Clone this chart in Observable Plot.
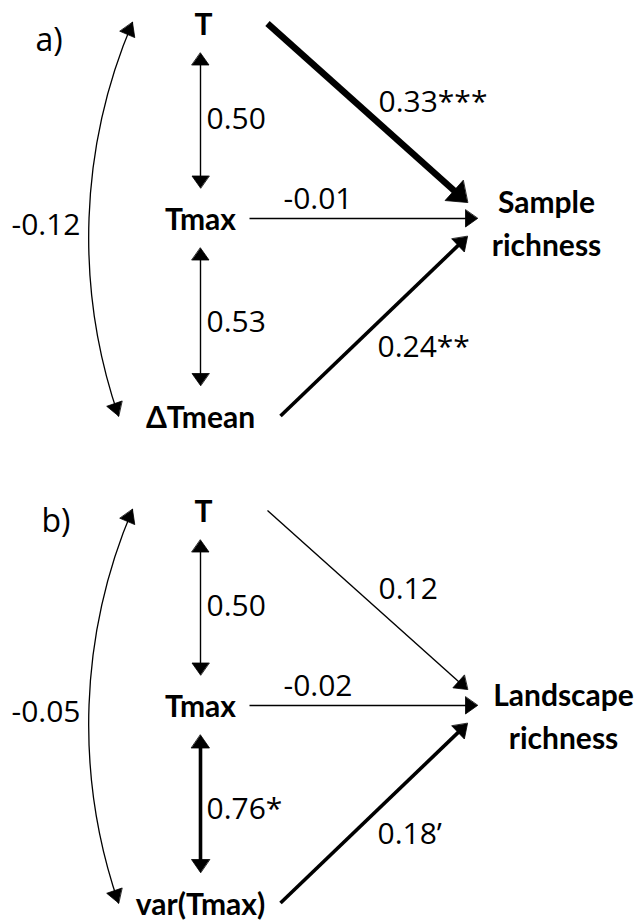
<!DOCTYPE html>
<html><head><meta charset="utf-8">
<script src="https://cdn.jsdelivr.net/npm/d3@7"></script>
<script src="https://cdn.jsdelivr.net/npm/@observablehq/plot@0.6"></script>
<style>html,body{margin:0;padding:0;background:#fff;}</style>
</head><body><div id="chart"></div>
<script>
// ---------------- data ----------------
const panelLabels = ["a)", "b)"];
const responseNames = ["Sample\nrichness", "Landscape\nrichness"];
const predictorNames = [["T", "Tmax", "ΔTmean"], ["T", "Tmax", "var(Tmax)"]];
// path coefficients: predictor -> response
const pathCoefs = [["0.33***", "-0.01", "0.24**"], ["0.12", "-0.02", "0.18’"]];
// correlations between neighbouring predictors (T-Tmax, Tmax-third)
const adjacentCorrs = [["0.50", "0.53"], ["0.50", "0.76*"]];
// correlation between first and third predictor (curved arrow)
const outerCorrs = ["-0.12", "-0.05"];

// ---------------- layout (diagram units) ----------------
const W = 638, H = 923;
const panelOffset = [0, 487];
const rowY = [24, 219, 416.5];
const nodeX = 200;
const responseLabelPos = [[546, 220], [563, 226]];
const pathStart = [[267, -1], [249, -1], [280, -1]];      // x, dy relative to predictor row
const pathTip = [[467, -17], [477, -1], [467, 17]];       // x, dy relative to middle row
const pathLabelPos = [[378, 102], [283, 199], [377, 347]];
const adjLabelPos = [[206, 119], [206, 322]];
const vertGap = [28.5, 31.5];
const outerLabelPos = [80, 225];
const arcEnds = [[132, -2], [118, -1]];
const arcBend = 21;
const panelLabelPos = [[35, 40], [41, 34]];

const styleOf = lab => {
  const stars = (lab.match(/\*/g) || []).length;
  if (stars >= 3) return "thick";
  if (stars >= 1 || lab.includes("’")) return "medium";
  return "thin";
};
const strokeW = {thin: 1.4, medium: 3.6, thick: 6.5};
const headSize = {thin: [12, 17], medium: [13, 18], thick: [18, 27]};

// ---------------- build geometry ----------------
const links = [], heads = [], arcs = [];
const txtStart = [], txtEnd = [], txtBold = [], txtResp = [];
let hid = 0;
function addHead(tx, ty, ang, L, Wd) {
  const dx = Math.cos(ang), dy = Math.sin(ang), nx = -dy, ny = dx;
  const bx = tx - L * dx, by = ty - L * dy;
  const id = hid++;
  heads.push({id, x: tx, y: ty});
  heads.push({id, x: bx + nx * Wd / 2, y: by + ny * Wd / 2});
  heads.push({id, x: bx - nx * Wd / 2, y: by - ny * Wd / 2});
}
function addArrow(x1, y1, x2, y2, st, both) {
  const ang = Math.atan2(y2 - y1, x2 - x1);
  const [L, Wd] = headSize[st];
  const sx = both ? x1 + 0.6 * L * Math.cos(ang) : x1;
  const sy = both ? y1 + 0.6 * L * Math.sin(ang) : y1;
  links.push({x1: sx, y1: sy, x2: x2 - 0.6 * L * Math.cos(ang), y2: y2 - 0.6 * L * Math.sin(ang), sw: strokeW[st]});
  addHead(x2, y2, ang, L, Wd);
  if (both) addHead(x1, y1, ang + Math.PI, L, Wd);
}

panelLabels.forEach((pl, p) => {
  const off = panelOffset[p];
  const ry = rowY.map(r => r + off);
  txtStart.push({x: panelLabelPos[p][0], y: panelLabelPos[p][1] + off, text: pl, big: true});
  predictorNames[p].forEach((n, i) => txtBold.push({x: nodeX + (n === "T" ? 3 : 0), y: ry[i] + 1, text: n}));
  txtResp.push({x: responseLabelPos[p][0], y: responseLabelPos[p][1] + off, text: responseNames[p]});
  pathCoefs[p].forEach((c, i) => {
    addArrow(pathStart[i][0], ry[i] + pathStart[i][1], pathTip[i][0], ry[1] + pathTip[i][1], styleOf(c), false);
    txtStart.push({x: pathLabelPos[i][0], y: pathLabelPos[i][1] + off, text: c});
  });
  adjacentCorrs[p].forEach((c, i) => {
    addArrow(nodeX, ry[i] + vertGap[0], nodeX, ry[i + 1] - vertGap[1], styleOf(c), true);
    txtStart.push({x: adjLabelPos[i][0], y: adjLabelPos[i][1] + off, text: c});
  });
  // curved double arrow
  const x1 = arcEnds[0][0], y1 = ry[0] + arcEnds[0][1], x2 = arcEnds[1][0], y2 = ry[2] + arcEnds[1][1];
  arcs.push({x1, y1, x2, y2});
  const chord = Math.atan2(y2 - y1, x2 - x1), th = arcBend * Math.PI / 180;
  addHead(x2, y2, chord - th, 13, 16);
  addHead(x1, y1, chord + th + Math.PI, 13, 16);
  txtEnd.push({x: outerLabelPos[0], y: outerLabelPos[1] + off, text: outerCorrs[p]});
});

const reg = {fontFamily: "Open Sans", fontSize: 30, fill: "#000"};
const bold = {fontFamily: "Lato", fontSize: 30, fontWeight: "bold", fill: "#000"};
const chart = Plot.plot({
  width: W, height: H, margin: 0,
  x: {domain: [0, W], range: [0, W], axis: null},
  y: {domain: [0, H], range: [0, H], axis: null},
  style: {background: "#fff", color: "#000", fontFamily: "Open Sans"},
  marks: [
    Plot.link(links, {x1: "x1", y1: "y1", x2: "x2", y2: "y2", strokeWidth: "sw", stroke: "#000"}),
    Plot.arrow(arcs, {x1: "x1", y1: "y1", x2: "x2", y2: "y2", bend: -arcBend, headLength: 0, strokeWidth: 1.3, stroke: "#000"}),
    Plot.line(heads, {x: "x", y: "y", z: "id", fill: "#000", stroke: "#000", strokeWidth: 0.8, curve: "linear-closed"}),
    Plot.text(txtStart, {x: "x", y: "y", text: "text", textAnchor: "start", ...reg, fontSize: d => d.big ? 32 : 30}),
    Plot.text(txtEnd, {x: "x", y: "y", text: "text", textAnchor: "end", ...reg}),
    Plot.text(txtBold, {x: "x", y: "y", text: "text", textAnchor: "middle", ...bold}),
    Plot.text(txtResp, {x: "x", y: "y", text: "text", textAnchor: "middle", lineHeight: 1.45, ...bold})
  ]
});
document.getElementById("chart").appendChild(chart);
</script>
</body></html>
